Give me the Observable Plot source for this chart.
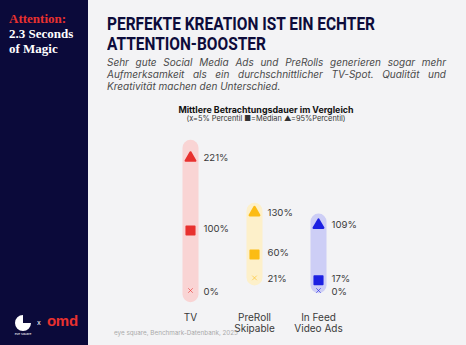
<!DOCTYPE html>
<html><head><meta charset="utf-8">
<script src="https://cdn.jsdelivr.net/npm/d3@7"></script>
<script src="https://cdn.jsdelivr.net/npm/@observablehq/plot@0.6"></script>
<style>
html,body{margin:0;padding:0;}
body{width:466px;height:345px;position:relative;overflow:hidden;background:#f3f3f5;font-family:Inter,"Noto Sans",sans-serif;}
#side{position:absolute;left:0;top:0;width:88px;height:345px;background:#0b0a3a;}
#side .t{position:absolute;left:9px;top:11px;font-family:"Liberation Serif","DejaVu Serif",serif;font-weight:bold;font-size:13px;line-height:15px;color:#fff;}
#side .t .r{color:#e8312f;}
#logo{position:absolute;left:12px;top:313px;}
#x{position:absolute;left:37px;top:318px;color:#fff;font-size:7px;}
#omd{position:absolute;left:47px;top:312px;color:#e8312f;font-weight:bold;font-size:15px;font-family:"Liberation Sans",Arial,sans-serif;letter-spacing:-0.3px;}
#title{position:absolute;left:107px;top:14px;font-family:Roboto,"Liberation Sans",sans-serif;font-weight:bold;font-size:18.3px;line-height:19.5px;color:#0d0c3b;}
#title div{white-space:nowrap;transform-origin:0 50%;width:max-content;height:19.5px;}
#sub{position:absolute;left:107px;top:56px;width:339px;font-family:Inter,sans-serif;font-style:italic;font-size:10px;line-height:12px;color:#4a4a4a;text-align:justify;}
#ctitle{position:absolute;left:100px;top:104px;width:332px;text-align:center;font-weight:bold;font-size:8.9px;color:#111;}
#csub{position:absolute;left:100px;top:114px;width:332px;text-align:center;font-size:7.4px;color:#333;}
#chart{position:absolute;left:88px;top:128px;}
#cap{position:absolute;left:114px;top:329px;font-size:6.3px;color:#aaa;}
</style></head>
<body>
<div id="side">
  <div class="t"><span class="r">Attention:</span><br>2.3 Seconds<br>of Magic</div>
  <svg id="logo" width="22" height="22" viewBox="0 0 22 22">
    <path d="M11 2 A8 8 0 1 0 19 10 L11 10 Z" fill="#fff"/>
    <text x="11" y="21.5" fill="#fff" font-size="3.2" text-anchor="middle" font-family="Inter">eye square</text>
  </svg>
  <div id="x">x</div>
  <div id="omd">omd</div>
</div>
<div id="title"><div id="t1">PERFEKTE KREATION IST EIN ECHTER</div><div id="t2">ATTENTION-BOOSTER</div></div>
<div id="sub">Sehr gute Social Media Ads und PreRolls generieren sogar mehr Aufmerksamkeit als ein durchschnittlicher TV-Spot. Qualität und Kreativität machen den Unterschied.</div>
<div id="ctitle">Mittlere Betrachtungsdauer im Vergleich</div>
<div id="csub">(x=5% Percentil ■=Median ▲=95%Percentil)</div>
<div id="chart"></div>
<div id="cap">eye square, Benchmark-Datenbank, 2025</div>
<script>
const categories = ["TV", "PreRoll\nSkipable", "In Feed\nVideo Ads"];
const p5 = [0, 21, 0];
const median = [100, 60, 17];
const p95 = [221, 130, 109];
const capsuleLow = [-7, 21, 8];
const capsuleHigh = [237, 132, 114];

// condensed title: scale the first line to the reference width
const t1 = document.getElementById("t1"), t2 = document.getElementById("t2");
const k = 268 / t1.getBoundingClientRect().width;
t1.style.transform = t2.style.transform = `scaleX(${k})`;

const rows = categories.map((c, i) => ({cat: c, p5: p5[i], median: median[i], p95: p95[i], lo: capsuleLow[i], hi: capsuleHigh[i]}));
const markerColor = {"TV": "#e8312f", "PreRoll\nSkipable": "#fcbc14", "In Feed\nVideo Ads": "#1c20e2"};
const capsuleColor = {"TV": "#f9d4d4", "PreRoll\nSkipable": "#fdf0ca", "In Feed\nVideo Ads": "#cdcef6"};
const lbl = v => v + "%";

const chart = Plot.plot({
  width: 300, height: 210,
  marginLeft: 101, marginRight: 70, marginTop: 12, marginBottom: 48,
  style: {background: "transparent", fontFamily: "Inter, sans-serif", overflow: "visible"},
  x: {type: "point", domain: categories, padding: 0},
  y: {domain: [0, 250], axis: null},
  marks: [
    Plot.ruleX(rows, {x: "cat", y1: "lo", y2: "hi", stroke: d => capsuleColor[d.cat], strokeWidth: 16, strokeLinecap: "round"}),
    Plot.dot(rows, {x: "cat", y: "p95", symbol: "triangle", r: 3.6, fill: d => markerColor[d.cat], stroke: d => markerColor[d.cat], strokeWidth: 2.2, strokeLinejoin: "round"}),
    Plot.dot(rows, {x: "cat", y: "median", symbol: "square", r: 4.8, fill: d => markerColor[d.cat], stroke: d => markerColor[d.cat], strokeWidth: 1.6, strokeLinejoin: "round"}),
    Plot.dot(rows, {x: "cat", y: "p5", symbol: "times", r: 2.2, stroke: d => markerColor[d.cat], strokeOpacity: 0.6, strokeWidth: 1}),
    Plot.text(rows, {x: "cat", y: "p95", text: d => lbl(d.p95), dx: 13, textAnchor: "start", fontSize: 9.6, fill: "#3a3a3a"}),
    Plot.text(rows, {x: "cat", y: "median", text: d => lbl(d.median), dx: 13, dy: -1.5, textAnchor: "start", fontSize: 9.6, fill: "#3a3a3a"}),
    Plot.text(rows, {x: "cat", y: "p5", text: d => lbl(d.p5), dx: 13, dy: 1, textAnchor: "start", fontSize: 9.6, fill: "#3a3a3a"}),
    Plot.axisX({tickSize: 0, tickPadding: 22, fontSize: 10, lineHeight: 1.15, color: "#3a3a3a", label: null})
  ]
});
document.getElementById("chart").appendChild(chart);
</script>
</body></html>
